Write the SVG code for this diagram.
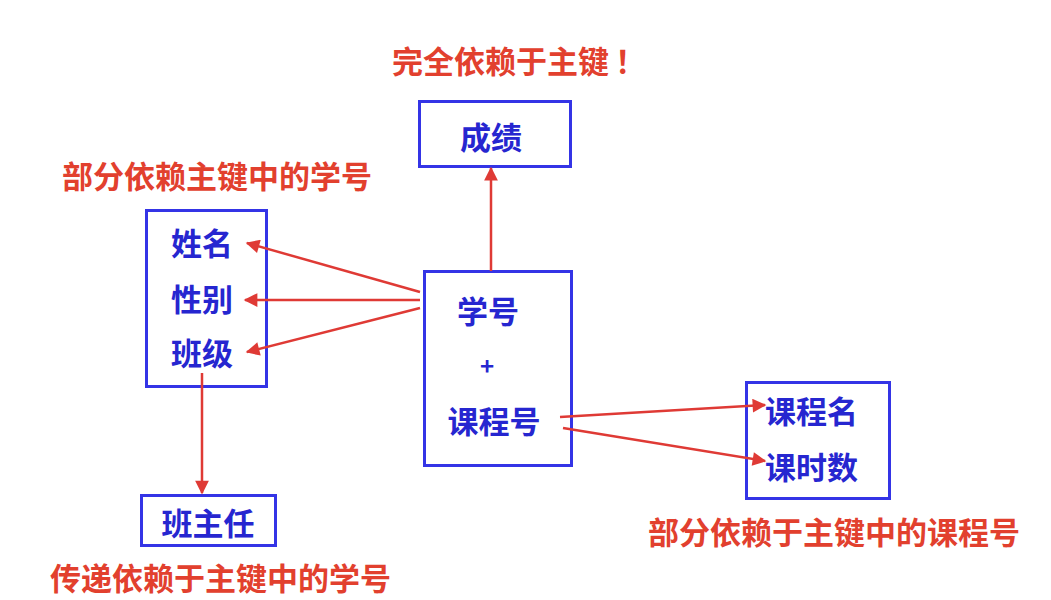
<svg xmlns="http://www.w3.org/2000/svg" width="1051" height="600" viewBox="0 0 1051 600">
<style>
.box{fill:#fff;stroke:#3434e6;stroke-width:3}
.bt{font-family:"Noto Sans CJK SC","Noto Sans",sans-serif;font-weight:700;font-size:31px;fill:#2626d0;dominant-baseline:central}
.rt{font-family:"Noto Sans CJK SC","Noto Sans",sans-serif;font-weight:700;font-size:31px;fill:#e2402e;dominant-baseline:central}
.ln{stroke:#df3a35;stroke-width:2.5;fill:none;marker-end:url(#ah)}
</style>
<defs>
<marker id="ah" viewBox="0 0 10 10" refX="9" refY="5" markerWidth="7" markerHeight="5.5" markerUnits="strokeWidth" orient="auto">
<path d="M0,0 L10,5 L0,10 z" fill="#df3a35"/>
</marker>
</defs>
<rect width="1051" height="600" fill="#fff"/>
<text class="rt" x="392" y="59">完全依赖于主键<tspan dx="6">！</tspan></text>
<text class="rt" x="62" y="174">部分依赖主键中的学号</text>
<text class="rt" x="648" y="530">部分依赖于主键中的课程号</text>
<text class="rt" x="50" y="576">传递依赖于主键中的学号</text>
<g id="score">
<rect class="box" x="419.5" y="101.5" width="151" height="65"/>
<text class="bt" x="491" y="135" text-anchor="middle">成绩</text>
</g>
<g id="student">
<rect class="box" x="146.5" y="210.5" width="120" height="176"/>
<text class="bt" x="171" y="241">姓名</text>
<text class="bt" x="171" y="297">性别</text>
<text class="bt" x="171" y="351">班级</text>
</g>
<g id="key">
<rect class="box" x="424.5" y="271.5" width="147" height="194"/>
<text class="bt" x="488" y="309" text-anchor="middle">学号</text>
<text class="bt" x="487" y="364" text-anchor="middle" style="font-size:24px">+</text>
<text class="bt" x="494" y="419" text-anchor="middle">课程号</text>
</g>
<g id="course">
<rect class="box" x="746.5" y="382.5" width="143" height="116"/>
<text class="bt" x="765" y="409">课程名</text>
<text class="bt" x="765" y="465">课时数</text>
</g>
<g id="teacher">
<rect class="box" x="141.5" y="495.5" width="134" height="50"/>
<text class="bt" x="208" y="521" text-anchor="middle">班主任</text>
</g>
<g id="connectors">
<line class="ln" x1="491" y1="271" x2="491" y2="168"/>
<line class="ln" x1="420" y1="292" x2="247" y2="243"/>
<line class="ln" x1="420" y1="300" x2="245" y2="300"/>
<line class="ln" x1="420" y1="308" x2="247" y2="352"/>
<line class="ln" x1="202" y1="373" x2="202" y2="493"/>
<line class="ln" x1="560" y1="417" x2="765" y2="405"/>
<line class="ln" x1="563" y1="428" x2="765" y2="461"/>
</g>
</svg>
